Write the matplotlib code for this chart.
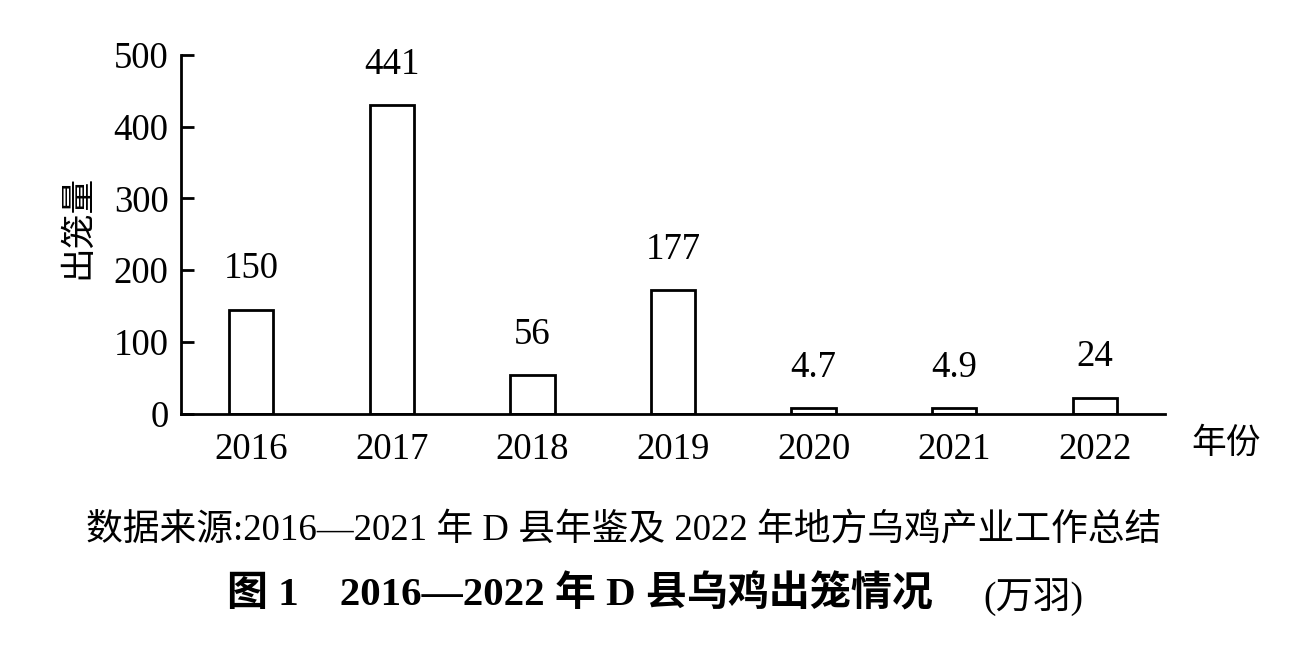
import matplotlib
matplotlib.use('Agg')
import matplotlib.pyplot as plt
import numpy as np

plt.rcParams['font.family'] = ['Liberation Serif', 'Noto Sans CJK SC']

# data
years = ['2016', '2017', '2018', '2019', '2020', '2021', '2022']
heights = [145, 430, 54, 172, 7.5, 7.5, 22]          # bar heights as drawn
value_labels = ['150', '441', '56', '177', '4.7', '4.9', '24']  # printed values
y_ticks = [0, 100, 200, 300, 400, 500]

W, H = 1302, 656
fig = plt.figure(figsize=(W / 100, H / 100), dpi=100)
fig.patch.set_facecolor('white')
ax = fig.add_axes([181 / W, 1 - 413.5 / H, (1165 - 181) / W, (413.5 - 55) / H])

x = np.arange(len(years))
ax.bar(x, heights, width=0.316, facecolor='white', edgecolor='black', linewidth=2.0)

for xi, h, lab in zip(x, heights, value_labels):
    ax.annotate(lab, (xi, h), xytext=(0, 22.5), textcoords='offset points',
                ha='center', va='baseline', fontsize=26.5)

ax.set_xlim(-0.5, 6.5)
ax.set_ylim(0, 500)
ax.set_yticks(y_ticks)
ax.set_xticks(x)
ax.set_xticklabels(years)
ax.tick_params(axis='y', direction='in', length=9, width=2.0, labelsize=26.5, pad=9)
ax.tick_params(axis='x', length=0, labelsize=26.5, pad=14)
for s in ['top', 'right']:
    ax.spines[s].set_visible(False)
for s in ['left', 'bottom']:
    ax.spines[s].set_linewidth(2.0)

ax.set_ylabel('出笼量', fontsize=25)
ax.yaxis.set_label_coords((95 - 181) / (1165 - 181), (413.5 - 227) / (413.5 - 55))

fig.text(1191 / W, 1 - 444 / H, '年份', fontsize=25, ha='left', va='center')

fig.text(86 / W, 1 - 530 / H,
         '数据来源:2016—2021 年 D 县年鉴及 2022 年地方乌鸡产业工作总结',
         fontsize=26.5, ha='left', va='center')
fig.text(227 / W, 1 - 595 / H, '图 1    2016—2022 年 D 县乌鸡出笼情况',
         fontsize=29.5, fontweight='bold', ha='left', va='center')
fig.text(983 / W, 1 - 597 / H, '(万羽)', fontsize=27, ha='left', va='center')

fig.savefig('out.png', dpi=100, facecolor='white')
